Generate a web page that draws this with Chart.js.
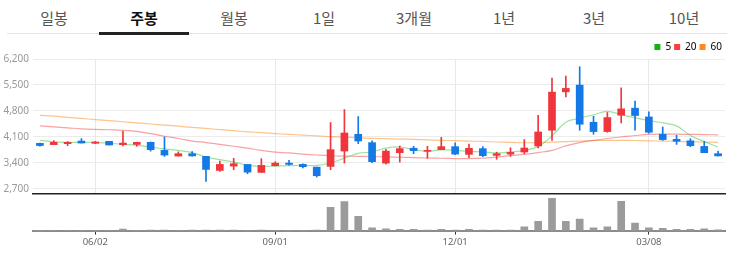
<!DOCTYPE html>
<html>
<head>
<meta charset="utf-8">
<script src="https://cdn.jsdelivr.net/npm/chart.js@4.4.1/dist/chart.umd.min.js"></script>
<style>
body { margin:0; width:733px; height:255px; background:#fff; position:relative; overflow:hidden; font-family:"Noto Sans CJK KR","Noto Sans",sans-serif; }
#tabs { position:absolute; left:9px; top:6px; display:flex; }
#tabs div { width:90px; text-align:center; font-size:15px; color:#555; line-height:24px; }
#tabs div.on { color:#111; font-weight:bold; }
#tabline { position:absolute; left:7px; top:33px; width:720px; height:1px; background:#e3e3e3; }
#tabbar { position:absolute; left:99px; top:32px; width:90px; height:3px; background:#222; }
#price { position:absolute; left:0; top:39px; }
#vol { position:absolute; left:0; top:185px; }
</style>
</head>
<body>
<div id="tabs">
  <div>일봉</div><div class="on">주봉</div><div>월봉</div><div>1일</div><div>3개월</div><div>1년</div><div>3년</div><div>10년</div>
</div>
<div id="tabline"></div>
<div id="tabbar"></div>
<canvas id="price" width="733" height="165"></canvas>
<canvas id="vol" width="733" height="65"></canvas>
<script>
// 주봉 데이터
const weeks = ['05/05','05/12','05/19','05/26','06/02','06/09','06/16','06/23','06/30','07/07',
  '07/14','07/21','07/28','08/04','08/11','08/18','08/25','09/01','09/08','09/15',
  '09/22','09/29','10/06','10/13','10/20','10/27','11/03','11/10','11/17','11/24',
  '12/01','12/08','12/15','12/22','12/29','01/05','01/12','01/19','01/26','02/02',
  '02/09','02/16','02/22','03/01','03/08','03/15','03/22','03/29','04/05','04/12'];
const xTickLabels = ['06/02','09/01','12/01','03/08'];
const yTicks = [2700, 3400, 4100, 4800, 5500, 6200];

const open  = [3930,3894,3920,3990,3930,3984,3894,3900,3957,3740,
  3586,3651,3578,3200,3316,3362,3146,3327,3397,3362,
  3289,3308,3721,4173,3948,3397,3678,3797,3715,3760,
  3840,3632,3786,3605,3640,3695,3857,4281,5316,5497,
  4497,4246,4686,4876,4640,4173,4038,3997,3846,3651];
const close = [3870,3957,3957,3937,3965,3884,3937,3957,3759,3613,
  3651,3590,3227,3362,3381,3154,3335,3397,3362,3300,
  3057,3759,4208,3992,3435,3721,3786,3733,3740,3840,
  3640,3797,3597,3650,3685,3803,4235,5308,5408,4443,
  4246,4624,4857,4678,4227,4030,3984,3867,3678,3590];
const high  = [3935,4002,3976,4056,3980,3984,4254,3960,3965,4100,
  3700,3710,3578,3451,3524,3362,3516,3435,3470,3380,
  3289,4489,4840,4651,4000,3770,3857,3850,3850,4092,
  3940,3910,3840,3690,3810,4030,4686,5686,5740,5992,
  4659,4760,5424,5065,4780,4370,4146,4057,3984,3720];
const low   = [3850,3894,3867,3937,3920,3884,3857,3850,3720,3578,
  3586,3586,2902,3173,3218,3110,3146,3320,3343,3270,
  3020,3218,3397,3921,3410,3370,3424,3651,3524,3760,
  3624,3545,3570,3500,3580,3650,3803,4011,5181,4281,
  4173,4227,4478,4281,4200,4011,3900,3838,3678,3590];

const ma5  = [4011,3970,3955,3955,3957,3930,3905,3880,3830,3780,
  3740,3680,3560,3490,3430,3335,3310,3316,3330,3335,
  3335,3400,3530,3660,3700,3800,3830,3760,3713,3750,
  3740,3713,3700,3670,3700,3740,3840,4130,4500,4600,
  4700,4790,4700,4620,4540,4480,4400,4140,3980,3830];
const ma20 = [4397,4370,4345,4320,4305,4295,4280,4250,4190,4120,
  4060,3990,3950,3900,3850,3800,3740,3690,3670,3640,
  3615,3595,3585,3580,3575,3562,3555,3545,3535,3528,
  3520,3516,3530,3560,3600,3630,3680,3740,3860,3950,
  4010,4060,4100,4140,4170,4175,4175,4170,4165,4155];
const ma60 = [4680,4660,4630,4600,4570,4540,4510,4480,4450,4420,
  4390,4360,4330,4300,4270,4240,4215,4192,4170,4150,
  4130,4110,4095,4080,4065,4055,4045,4035,4020,4010,
  4000,3990,3980,3965,3955,3945,3950,3960,3975,3990,
  4005,4010,4010,4005,3995,3990,3980,3975,3965,3955];

const volume = [2,2,2,2,2,3,15,3,4,6,
  3,4,6,6,6,3,6,3,2,3,
  5,234,294,144,27,17,13,13,6,13,
  5,13,5,5,4,37,93,327,93,117,
  27,37,297,77,27,23,13,13,17,8];

const UP = '#f0363c', DOWN = '#1479e6';
const candleColors = open.map((o, i) => close[i] >= o ? UP : DOWN);
const showTick = i => xTickLabels.includes(weeks[i]);

Chart.defaults.font.family = '"Noto Sans", sans-serif';
Chart.defaults.animation = false;

const maLegend = [
  { text: '5', fillStyle: '#12b312' },
  { text: '20', fillStyle: '#ff3d3d' },
  { text: '60', fillStyle: '#ff8a1c' }
];

new Chart(document.getElementById('price'), {
  data: {
    labels: weeks,
    datasets: [
      { type: 'line', label: '5', data: ma5, borderColor: 'rgba(60,200,60,0.5)', borderWidth: 1.2, pointRadius: 0, tension: 0.4, order: 3 },
      { type: 'line', label: '20', data: ma20, borderColor: 'rgba(245,70,70,0.5)', borderWidth: 1.2, pointRadius: 0, tension: 0.4, order: 3 },
      { type: 'line', label: '60', data: ma60, borderColor: 'rgba(250,140,30,0.5)', borderWidth: 1.2, pointRadius: 0, tension: 0.4, order: 3 },
      { type: 'bar', label: 'wick', data: low.map((l, i) => [l, high[i]]), backgroundColor: candleColors, barThickness: 1, grouped: false, order: 2 },
      { type: 'bar', label: 'body', data: open.map((o, i) => [o, close[i]]), backgroundColor: candleColors, barThickness: 7, grouped: false, order: 1 }
    ]
  },
  options: {
    responsive: false,
    layout: { padding: { left: 0, right: 8, top: 0, bottom: 0 } },
    plugins: {
      tooltip: { enabled: false },
      legend: {
        align: 'end',
        maxHeight: 20,
        labels: {
          boxWidth: 6, boxHeight: 6, padding: 3,
          color: '#666', font: { size: 10 },
          generateLabels: () => maLegend.map(m => ({ text: m.text, fillStyle: m.fillStyle, strokeStyle: m.fillStyle, lineWidth: 0, hidden: false }))
        }
      }
    },
    scales: {
      x: {
        offset: true,
        grid: { offset: false, drawTicks: false, color: ctx => showTick(ctx.index) ? '#e8e8e8' : 'rgba(0,0,0,0)' },
        ticks: { display: false, autoSkip: false },
        border: { color: '#222', width: 1.5 }
      },
      y: {
        min: 2565, max: 6200,
        afterBuildTicks: s => { s.ticks = yTicks.map(v => ({ value: v })); },
        afterFit: s => { s.width = 33; },
        grid: { color: '#ececec', drawTicks: false },
        border: { display: false },
        ticks: { padding: 4, color: '#999', font: { size: 10 }, callback: v => v.toLocaleString('en-US') }
      }
    }
  }
});

new Chart(document.getElementById('vol'), {
  type: 'bar',
  data: {
    labels: weeks,
    datasets: [{ data: volume, backgroundColor: '#9b9b9b', barThickness: 7 }]
  },
  options: {
    responsive: false,
    layout: { padding: { left: 33, right: 8, top: 8, bottom: 0 } },
    plugins: { legend: { display: false }, tooltip: { enabled: false } },
    scales: {
      x: {
        grid: { offset: false, drawOnChartArea: false, tickLength: 4, tickColor: ctx => showTick(ctx.index) ? '#333' : 'rgba(0,0,0,0)' },
        border: { color: '#8c8c8c', width: 2 },
        ticks: { autoSkip: false, maxRotation: 0, padding: 2, color: '#666', font: { size: 9.5 }, callback: (v, i) => showTick(i) ? weeks[i] : '' }
      },
      y: { display: false, min: 0, max: 380 }
    }
  }
});
</script>
</body>
</html>
